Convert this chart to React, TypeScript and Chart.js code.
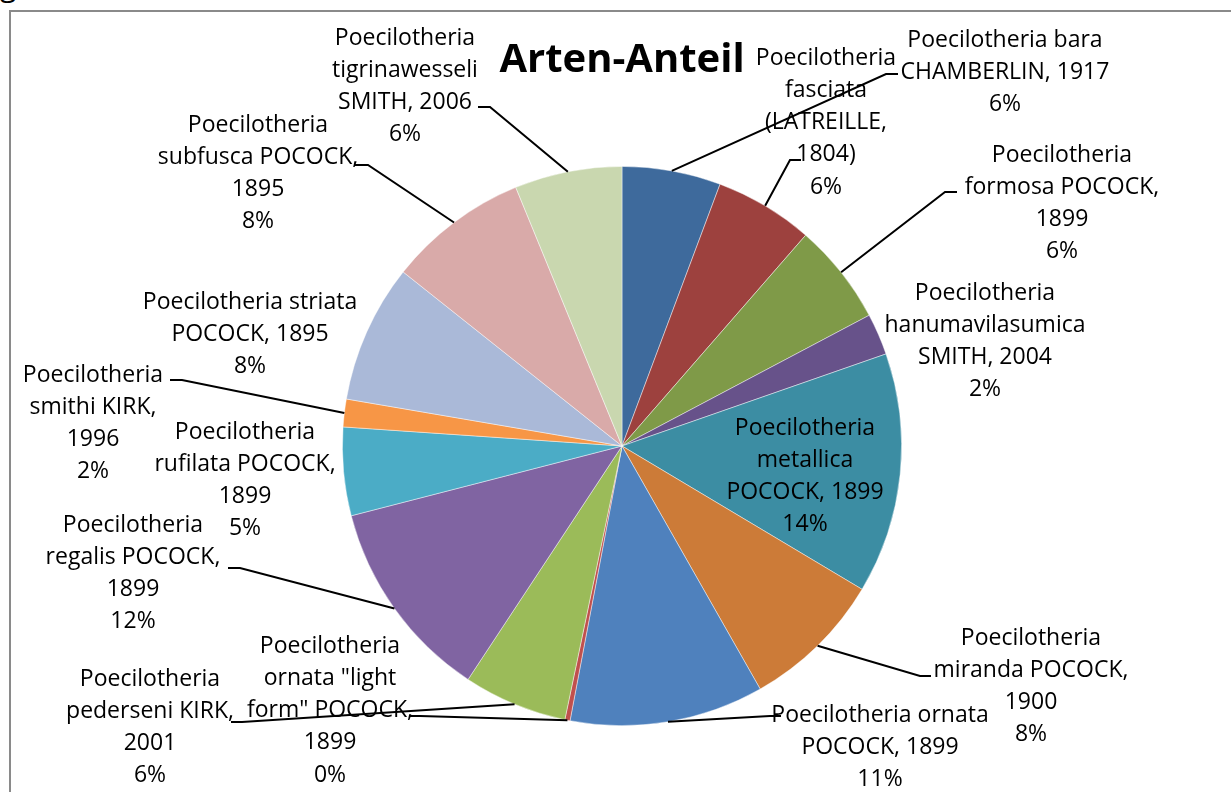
import React, { useEffect, useRef } from "react";
import { Chart, registerables } from "chart.js";

Chart.register(...registerables);

const title = "Arten-Anteil";

const species = [
  "Poecilotheria bara CHAMBERLIN, 1917",
  "Poecilotheria fasciata (LATREILLE, 1804)",
  "Poecilotheria formosa POCOCK, 1899",
  "Poecilotheria hanumavilasumica SMITH, 2004",
  "Poecilotheria metallica POCOCK, 1899",
  "Poecilotheria miranda POCOCK, 1900",
  "Poecilotheria ornata POCOCK, 1899",
  'Poecilotheria ornata "light form" POCOCK, 1899',
  "Poecilotheria pederseni KIRK, 2001",
  "Poecilotheria regalis POCOCK, 1899",
  "Poecilotheria rufilata POCOCK, 1899",
  "Poecilotheria smithi KIRK, 1996",
  "Poecilotheria striata POCOCK, 1895",
  "Poecilotheria subfusca POCOCK, 1895",
  "Poecilotheria tigrinawesseli SMITH, 2006",
];

const shares = [5.7, 5.7, 5.85, 2.4, 13.9, 8.2, 11.2, 0.3, 6.0, 11.7, 5.1, 1.6, 8.0, 8.1, 6.2];

// how each label's text wraps (percent line is appended from the data)
const labelLines = [
  ["Poecilotheria bara", "CHAMBERLIN, 1917"],
  ["Poecilotheria", "fasciata", "(LATREILLE,", "1804)"],
  ["Poecilotheria", "formosa POCOCK,", "1899"],
  ["Poecilotheria", "hanumavilasumica", "SMITH, 2004"],
  ["Poecilotheria", "metallica", "POCOCK, 1899"],
  ["Poecilotheria", "miranda POCOCK,", "1900"],
  ["Poecilotheria ornata", "POCOCK, 1899"],
  ["Poecilotheria", 'ornata "light', 'form" POCOCK,', "1899"],
  ["Poecilotheria", "pederseni KIRK,", "2001"],
  ["Poecilotheria", "regalis POCOCK,", "1899"],
  ["Poecilotheria", "rufilata POCOCK,", "1899"],
  ["Poecilotheria", "smithi KIRK,", "1996"],
  ["Poecilotheria striata", "POCOCK, 1895"],
  ["Poecilotheria", "subfusca POCOCK,", "1895"],
  ["Poecilotheria", "tigrinawesseli", "SMITH, 2006"],
];

const colors = [
  "#3E6A9C", "#9D413E", "#7F9A48", "#67528A", "#3C8DA3", "#CC7B38", "#4F81BD",
  "#C0504D", "#9BBB59", "#8064A2", "#4BACC6", "#F79646", "#AAB9D8", "#D9AAA9", "#C9D7AF",
];

// label layout (presentation only): centre x, first line y
const labelPos = [
  [1005, 40], [826, 58], [1062, 155], [985, 293], [805, 428], [1031, 638], [880, 715],
  [330, 646], [150, 679], [133, 525], [245, 432], [93, 375], [250, 302], [258, 125], [405, 38],
];

// leader polyline after the slice's outer point (presentation only)
const leaders: (number[][] | null)[] = [
  [[886, 74], [898, 74]],
  [[790, 160], [801, 160]],
  [[945, 192], [957, 192]],
  null,
  null,
  [[920, 676], [931, 676]],
  [[770, 716], [781, 716]],
  [[420, 716], [409, 716]],
  [[242, 722], [231, 722]],
  [[240, 568], [228, 568]],
  null,
  [[182, 380], [170, 380]],
  null,
  [[368, 165], [355, 165]],
  [[490, 107], [478, 107]],
];

const FONT = '"Open Sans", "Noto Sans", sans-serif';

const labelPlugin = {
  id: "pieLabels",
  afterDraw(chart: any) {
    const ctx = chart.ctx;
    const meta = chart.getDatasetMeta(0);
    const data = chart.data.datasets[0].data as number[];
    const total = data.reduce((a, b) => a + b, 0);
    ctx.save();
    // leader lines
    ctx.strokeStyle = "#000";
    ctx.lineWidth = 2;
    meta.data.forEach((arc: any, i: number) => {
      const lead = leaders[i];
      if (!lead) return;
      const p = arc.getProps(["x", "y", "startAngle", "endAngle", "outerRadius"], true);
      const mid = (p.startAngle + p.endAngle) / 2;
      const sx = p.x + Math.cos(mid) * p.outerRadius;
      const sy = p.y + Math.sin(mid) * p.outerRadius;
      ctx.beginPath();
      ctx.moveTo(sx, sy);
      lead.forEach((pt) => ctx.lineTo(pt[0], pt[1]));
      ctx.stroke();
    });
    // labels
    ctx.fillStyle = "#000";
    ctx.font = `23px ${FONT}`;
    ctx.textAlign = "center";
    ctx.textBaseline = "middle";
    data.forEach((v, i) => {
      const lines = [...labelLines[i], `${Math.round((v / total) * 100)}%`];
      const [x, y] = labelPos[i];
      lines.forEach((t, k) => ctx.fillText(t, x, y + k * 32.3));
    });
    // title
    ctx.font = `bold 40px ${FONT}`;
    ctx.fillText(title, 622, 61);
    ctx.restore();
  },
};

export default function App() {
  const ref = useRef<HTMLCanvasElement | null>(null);
  useEffect(() => {
    if (!ref.current) return;
    const chart = new Chart(ref.current, {
      type: "pie",
      data: {
        labels: species,
        datasets: [
          {
            data: shares,
            backgroundColor: colors,
            borderColor: "rgba(255,255,255,0.55)",
            borderWidth: 0.8,
          },
        ],
      },
      options: {
        animation: false,
        responsive: false,
        maintainAspectRatio: false,
        layout: { padding: { left: 342, right: 329, top: 166, bottom: 66 } },
        plugins: {
          legend: { display: false },
          tooltip: { enabled: false },
          title: { display: false },
        },
      },
      plugins: [labelPlugin],
    });
    return () => chart.destroy();
  }, []);

  return (
    <div
      style={{
        position: "fixed",
        left: 0,
        top: 0,
        width: 1231,
        height: 792,
        overflow: "hidden",
        background: "#fff",
      }}
    >
      <div
        style={{
          position: "absolute",
          left: 0,
          top: -31,
          lineHeight: "32px",
          fontFamily: FONT,
          fontSize: 30,
          color: "#000",
        }}
      >
        g
      </div>
      <div
        style={{
          position: "absolute",
          left: 9,
          top: 10,
          width: 1400,
          height: 1000,
          border: "2px solid #8a8a8a",
        }}
      />
      <canvas
        ref={ref}
        width={1231}
        height={792}
        style={{ position: "absolute", left: 0, top: 0, width: 1231, height: 792 }}
      />
    </div>
  );
}
